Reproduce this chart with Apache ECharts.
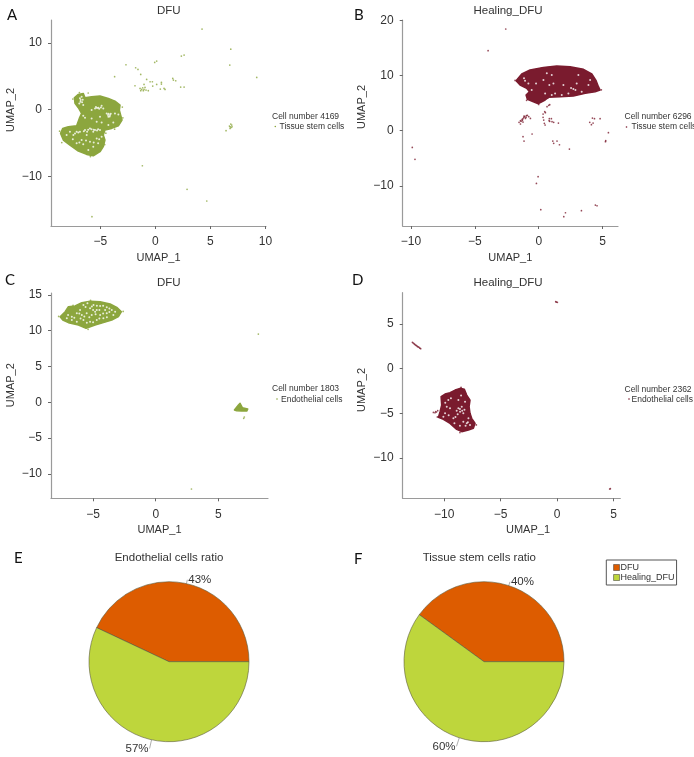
<!DOCTYPE html>
<html><head><meta charset="utf-8">
<style>html,body{margin:0;padding:0;background:#fff}#c{width:694px;height:757px}</style>
<script src="https://cdn.jsdelivr.net/npm/echarts@6/dist/echarts.min.js"></script>
</head><body><div id="c"></div>
<script>
// ---- values (UMAP coordinates) ----
const aXTicks=[-5,0,5,10], aYTicks=[-10,0,10];
const bXTicks=[-10,-5,0,5], bYTicks=[-10,0,10,20];
const cXTicks=[-5,0,5], cYTicks=[-10,-5,0,5,10,15];
const dXTicks=[-10,-5,0,5], dYTicks=[-10,-5,0,5];

const aCloud=[[-7.36,1.79],[-7.0,2.29],[-6.55,2.44],[-6.39,1.79],[-5.79,1.94],[-5.03,2.04],[-4.27,1.69],[-3.67,1.29],[-3.21,0.7],[-3.27,-0.05],[-3.15,-0.8],[-3.03,-1.54],[-3.36,-2.39],[-3.97,-2.79],[-4.58,-3.03],[-4.73,-3.78],[-4.58,-4.53],[-4.73,-5.52],[-5.03,-6.27],[-5.64,-6.87],[-6.24,-6.67],[-7.0,-6.17],[-7.76,-5.27],[-8.36,-4.53],[-8.61,-3.53],[-8.42,-2.79],[-7.91,-2.54],[-7.15,-2.39],[-6.91,-1.29],[-6.7,-0.55],[-7.0,0.3],[-7.3,0.95]];
const aGaps=[[-6.79,1.44],[-6.91,0.95],[-6.55,0.7],[-6.7,1.94],[-5.48,0.2],[-5.18,0.3],[-4.88,0.6],[-5.79,-0.05],[-4.73,0.2],[-4.42,-0.55],[-4.27,-1.04],[-4.12,-0.8],[-3.67,-0.55],[-3.36,-0.7],[-6.55,-0.9],[-6.39,-1.19],[-5.79,-1.29],[-5.03,-1.04],[-5.33,-1.79],[-5.94,-2.79],[-6.39,-3.03],[-5.64,-3.28],[-6.85,-3.28],[-7.3,-3.53],[-7.76,-3.28],[-7.45,-3.78],[-6.24,-3.78],[-5.48,-3.03],[-5.03,-3.03],[-6.7,-4.53],[-5.94,-4.78],[-6.55,-5.17],[-5.33,-4.28],[-4.88,-4.03],[-8.06,-3.78],[-5.64,-5.52],[-6.09,-6.02],[-7.15,-5.02],[-4.27,-2.29],[-3.82,-1.89],[-4.88,-1.89],[-6.8,1.2],[-6.65,1.1],[-6.6,1.5],[-6.85,1.7],[-5.3,0.25],[-5.1,0.15],[-4.95,0.35],[-5.4,0.4],[-4.25,-0.6],[-4.3,-0.8],[-4.15,-1.0],[-4.05,-0.6],[-6.1,-3.0],[-5.8,-2.9],[-5.6,-3.0],[-5.3,-3.1],[-5.2,-2.9],[-6.5,-3.2],[-6.2,-3.3],[-7.0,-3.4],[-7.15,-3.3],[-7.5,-4.4],[-6.9,-4.9],[-6.3,-4.6],[-5.6,-4.9],[-5.2,-5.0],[-5.1,-4.4]];
const aPoints=[[4.24,12.04],[6.85,9.05],[6.76,6.67],[9.21,4.83],[2.61,8.16],[2.36,8.01],[0.12,7.26],[-0.06,7.06],[-2.67,6.72],[-3.7,4.93],[-1.79,6.27],[-1.58,6.02],[-1.33,5.27],[-1.85,3.58],[1.58,4.68],[1.85,4.33],[1.64,4.43],[2.3,3.38],[2.61,3.38],[-0.79,4.53],[-1.03,3.78],[-0.48,4.18],[-0.27,4.18],[-0.24,3.53],[0.12,3.78],[0.55,4.08],[0.55,3.83],[0.45,3.08],[0.79,3.18],[0.88,3.03],[-1.39,3.18],[-1.24,3.03],[-1.15,3.28],[-1.09,2.84],[-0.94,3.33],[-0.85,2.94],[-0.64,2.84],[-1.33,2.84],[-1.03,3.03],[6.42,-3.13],[6.79,-2.54],[6.94,-2.29],[6.88,-2.64],[6.73,-2.44],[6.97,-2.54],[6.79,-2.79],[6.85,-2.14],[-1.18,-8.36],[2.88,-11.89],[4.67,-13.63],[-5.76,-15.97],[-3.0,0.4],[-2.95,-1.2],[-4.5,-3.5],[-8.7,-3.2],[-6.1,2.5],[-6.9,2.55],[-7.5,1.6],[-8.5,-4.9],[-5.9,-7.0],[-4.6,-5.2],[-3.7,-2.9]];

const bCloud=[[-1.77,9.06],[-1.33,10.27],[-0.68,10.99],[0.37,11.47],[1.41,11.71],[2.45,11.59],[3.5,11.11],[4.15,10.27],[4.49,9.06],[4.67,7.97],[4.8,7.37],[4.41,7.07],[3.63,6.76],[2.71,6.28],[1.67,6.16],[0.76,6.04],[0.5,5.56],[-0.03,4.89],[-0.42,5.25],[-0.89,5.68],[-0.99,6.46],[-0.73,7.07],[-0.94,7.67],[-1.46,8.27]];
const bGaps=[[2.71,7.55],[2.53,7.73],[2.87,7.37],[1.02,6.46],[0.5,6.76],[1.15,8.57],[-0.21,8.57],[-1.07,9.06],[-1.15,9.48],[1.93,8.27],[2.32,6.76],[3.36,7.07],[3.89,8.27],[4.02,9.18],[3.1,10.08],[1.02,10.08],[0.37,9.18],[1.8,6.46],[1.28,6.76],[0.63,10.39],[-0.55,7.37],[-0.81,8.57],[0.83,8.27],[2.97,8.57]];
const bPoints=[[-2.58,18.42],[-3.96,14.49],[-9.89,-3.02],[-9.68,-5.19],[0.78,4.59],[0.65,4.35],[0.86,4.71],[0.47,3.44],[0.34,3.02],[0.52,3.26],[0.34,2.42],[0.39,1.93],[0.44,1.33],[0.5,1.03],[0.83,2.17],[0.99,2.17],[0.86,1.69],[1.04,1.63],[1.17,1.51],[0.81,1.81],[1.54,1.39],[-1.17,2.42],[-1.1,2.54],[-1.23,2.17],[-1.3,2.05],[-1.43,1.81],[-1.04,2.23],[-1.38,1.69],[-1.54,1.51],[-0.97,2.72],[-0.89,2.78],[-0.99,2.42],[-0.65,2.23],[-0.78,2.54],[-1.15,2.66],[-1.28,1.87],[-1.43,1.21],[-1.23,1.57],[4.2,2.29],[4.36,2.17],[4.8,2.17],[3.99,1.51],[4.25,1.39],[4.12,1.09],[5.45,-0.36],[5.24,-1.81],[5.22,-1.99],[-0.52,-0.6],[-1.23,-1.09],[-1.15,-1.87],[1.1,-1.87],[1.17,-2.29],[1.43,-1.87],[1.62,-2.54],[2.4,-3.32],[-0.05,-8.33],[-0.18,-9.54],[0.16,-14.31],[2.09,-14.86],[1.96,-15.58],[3.34,-14.49],[4.43,-13.47],[4.56,-13.59],[-1.85,9.1],[4.9,7.4],[0.0,4.75],[-0.95,5.5],[0.7,5.9]];

const cCloud=[[-7.63,11.96],[-7.23,12.66],[-6.97,13.36],[-6.44,13.45],[-5.9,13.92],[-5.24,14.11],[-4.44,14.06],[-3.64,13.73],[-3.11,13.27],[-2.74,12.66],[-2.98,11.96],[-3.51,11.5],[-4.18,11.13],[-4.84,10.8],[-5.56,10.34],[-6.17,10.8],[-6.97,11.13],[-7.42,11.5]];
const cSmallCloud=[[6.28,-1.08],[6.6,-0.38],[6.73,-0.14],[6.91,-0.75],[7.34,-0.94],[7.26,-1.22],[6.86,-1.22],[6.46,-1.17]];
const cGaps=[[-5.77,13.59],[-5.45,13.83],[-4.97,13.59],[-4.44,13.45],[-3.91,13.27],[-3.51,12.9],[-3.24,12.66],[-4.71,12.9],[-5.24,13.13],[-6.3,12.43],[-5.9,12.2],[-5.51,12.43],[-5.11,12.2],[-4.44,12.2],[-3.91,12.43],[-3.38,12.2],[-6.7,11.5],[-6.3,11.27],[-5.77,11.5],[-5.24,11.27],[-4.71,11.5],[-4.18,11.73],[-7.1,11.73],[-6.7,11.96],[-4.84,12.66],[-4.04,12.9],[-6.04,12.9],[-5.6,13.3],[-5.1,13.4],[-4.7,13.5],[-4.2,13.5],[-3.7,13.1],[-5.0,12.9],[-4.5,12.9],[-6.1,12.4],[-5.7,12.0],[-5.3,11.9],[-4.8,12.3],[-4.2,12.4],[-3.7,12.6],[-6.5,11.8],[-6.0,11.7],[-5.5,11.1],[-5.0,11.2],[-4.5,11.7],[-3.9,11.9],[-7.0,12.2]];
const cPoints=[[8.19,9.54],[2.85,-12.1],[7.02,-2.23],[7.07,-2.05],[-2.6,12.7],[-7.75,12.0],[-5.4,10.2],[-5.2,14.25],[-6.6,13.55]];

const dCloud=[[-10.27,-3.13],[-9.92,-2.84],[-9.48,-2.69],[-9.03,-2.39],[-8.59,-2.2],[-8.21,-2.31],[-8.0,-2.95],[-7.71,-3.51],[-7.79,-4.25],[-7.71,-5.0],[-7.56,-5.56],[-7.26,-6.12],[-7.41,-6.68],[-7.85,-6.87],[-8.44,-7.05],[-8.89,-6.79],[-9.48,-6.12],[-10.07,-5.67],[-10.51,-5.45],[-10.36,-4.81],[-10.22,-4.07]];
const dGaps=[[-8.74,-4.44],[-8.59,-4.81],[-8.89,-4.7],[-8.3,-5.0],[-8.44,-4.25],[-9.63,-3.51],[-9.92,-5.0],[-10.07,-5.37],[-9.18,-5.56],[-8.0,-6.12],[-8.3,-5.93],[-7.71,-6.31],[-7.85,-5.56],[-9.48,-4.44],[-8.74,-3.51],[-9.09,-6.12],[-8.15,-3.69],[-9.77,-4.25],[-8.6,-4.5],[-8.4,-4.7],[-8.2,-4.6],[-8.8,-5.1],[-9.6,-5.2],[-9.4,-3.3],[-9.9,-3.8],[-8.1,-6.4],[-7.9,-6.0],[-8.6,-6.4],[-9.0,-5.4],[-8.5,-3.0]];
const dPoints=[[-10.95,-4.89],[-10.75,-4.81],[-10.57,-4.7],[-10.81,-4.93],[-10.68,-4.85],[-12.81,2.95],[-12.74,2.88],[-12.67,2.8],[-12.6,2.72],[-12.52,2.65],[-12.45,2.58],[-12.37,2.5],[-12.3,2.44],[-12.22,2.39],[-12.15,2.3],[-12.08,2.24],[-0.06,7.46],[-0.12,7.5],[0.03,7.43],[4.72,-13.43],[4.66,-13.47],[-7.15,-6.3],[-8.6,-7.15],[-10.6,-5.4],[-8.5,-2.1]];

const pieCategories=['DFU','Healing_DFU'];
const endothelialRatio=[43,57];
const tissueStemRatio=[40,60];
const pieColors=['#DD5C00','#BED63C'];

// ---- layout ----
const GREEN='#8CA63E', RED='#7A1B2E', FONT='"Liberation Sans",Arial,sans-serif', TXT='#333';
const panels=[
 {rect:[51,20,215,206],x:[-9.48,10.05],y:[-17.36,13.4],xt:aXTicks,yt:aYTicks,clouds:[aCloud],gaps:aGaps,pts:aPoints,col:GREEN,nameUp:26,xShift:0},
 {rect:[402.7,20,215.3,206],x:[-10.64,6.2],y:[-17.26,20.05],xt:bXTicks,yt:bYTicks,clouds:[bCloud],gaps:bGaps,pts:bPoints,col:RED,nameUp:32,xShift:0},
 {rect:[51,293,217,205.3],x:[-8.36,8.96],y:[-13.4,15.27],xt:cXTicks,yt:cYTicks,clouds:[cCloud,cSmallCloud],gaps:cGaps,pts:cPoints,col:GREEN,nameUp:21,xShift:0},
 {rect:[402.7,292.7,217.6,205.6],x:[-13.67,5.6],y:[-14.51,8.51],xt:dXTicks,yt:dYTicks,clouds:[dCloud],gaps:dGaps,pts:dPoints,col:RED,nameUp:11,xShift:33}
];
const fmt=v=>String(v).replace('-','\u2212');
const axisCommon=(ticks,m)=>({type:'value',splitLine:{show:false},
  axisLine:{onZero:false,lineStyle:{color:'#9a9a9a',width:1.2}},
  axisTick:{length:3,lineStyle:{color:'#666',width:1},customValues:ticks},
  axisLabel:{color:TXT,fontFamily:FONT,fontSize:12,margin:m,customValues:ticks,formatter:fmt,showMinLabel:true,showMaxLabel:true},
  nameLocation:'middle'});
const grid=[],xAxis=[],yAxis=[],series=[];
panels.forEach((p,i)=>{
  grid.push({left:p.rect[0],top:p.rect[1],width:p.rect[2],height:p.rect[3]});
  xAxis.push({...axisCommon(p.xt,10),gridIndex:i,min:p.x[0],max:p.x[1],name:'UMAP_1',nameGap:26,
    nameTextStyle:{color:TXT,fontFamily:FONT,fontSize:11,padding:[0,0,0,p.xShift]}});
  yAxis.push({...axisCommon(p.yt,9),gridIndex:i,min:p.y[0],max:p.y[1],name:'UMAP_2',nameGap:35,
    nameTextStyle:{color:TXT,fontFamily:FONT,fontSize:11,padding:[0,0,0,p.nameUp]}});
  p.clouds.forEach(cloud=>series.push({type:'custom',xAxisIndex:i,yAxisIndex:i,z:1,silent:true,data:cloud,
    encode:{x:0,y:1},
    renderItem:(params,api)=>{
      if(params.dataIndex!==0) return null;
      return {type:'polygon',shape:{points:cloud.map(c=>api.coord(c))},
        style:{fill:p.col,stroke:p.col,lineWidth:1.5,lineJoin:'round'}};
    }}));
  series.push({type:'scatter',xAxisIndex:i,yAxisIndex:i,z:2,silent:true,data:p.gaps,symbolSize:2,
    itemStyle:{color:'#fff',opacity:0.8}});
  series.push({type:'scatter',xAxisIndex:i,yAxisIndex:i,z:3,silent:true,data:p.pts,symbolSize:1.7,
    itemStyle:{color:p.col}});
});
const pie=(name,vals,cx)=>({type:'pie',name,center:[cx,661.7],radius:[0,80],startAngle:0,clockwise:false,
  data:pieCategories.map((n,k)=>({name:n,value:vals[k],itemStyle:{color:pieColors[k]},
    labelLine:{length:k?9:4,length2:0}})),
  itemStyle:{borderColor:'#5a5a3c',borderWidth:0.6},
  label:{position:'outside',formatter:'{c}%',color:TXT,fontFamily:FONT,fontSize:11.5,distanceToLabelLine:1},
  labelLine:{show:true,lineStyle:{color:'#777',width:0.6}},
  emphasis:{disabled:true},silent:true,animation:false});
series.push(pie('Endothelial cells ratio',endothelialRatio,169));
series.push(pie('Tissue stem cells ratio',tissueStemRatio,484));

const txt=(x,y,t,size,o={})=>({type:'text',x,y,style:{text:t,fill:o.fill||TXT,font:`${size}px ${o.family||FONT}`,align:o.align||'center',verticalAlign:'middle'}});
const dot=(x,y,c)=>({type:'circle',shape:{cx:x,cy:y,r:0.8},style:{fill:c}});
const graphic=[
 txt(168.7,10.7,'DFU',11.5),txt(508,10.7,'Healing_DFU',11.5),
 txt(168.7,283,'DFU',11.5),txt(508,283,'Healing_DFU',11.5),
 txt(169,557.7,'Endothelial cells ratio',11.5),txt(479.3,557.7,'Tissue stem cells ratio',11.5),
 ...[['A',7,15],['B',354,15],['C',5,280],['D',352,280],['E',14,558.5],['F',354,559]].map(l=>txt(l[1],l[2],l[0],15,{align:'left',family:'Lato,sans-serif',fill:'#111'})),
 txt(272,116.7,'Cell number 4169',8.5,{align:'left'}),txt(279.5,127,'Tissue stem cells',8.5,{align:'left'}),dot(275.3,126.5,GREEN),
 txt(624.5,116.7,'Cell number 6296',8.5,{align:'left'}),txt(631.5,127,'Tissue stem cells',8.5,{align:'left'}),dot(626.5,127,RED),
 txt(272,389,'Cell number 1803',8.5,{align:'left'}),txt(281,400,'Endothelial cells',8.5,{align:'left'}),dot(277,399,GREEN),
 txt(624.5,390,'Cell number 2362',8.5,{align:'left'}),txt(631.5,400,'Endothelial cells',8.5,{align:'left'}),dot(629,399,RED)
];
const chart=echarts.init(document.getElementById('c'),null,{renderer:'canvas'});
chart.setOption({animation:false,backgroundColor:'#fff',grid,xAxis,yAxis,series,graphic,
  legend:{left:606.3,top:560,orient:'vertical',data:pieCategories,icon:'rect',itemWidth:6,itemHeight:6,itemGap:1,
    padding:[3,2,3,7],borderColor:'#555',borderWidth:1,selectedMode:false,
    itemStyle:{borderWidth:0.5,borderColor:'#333'},
    textStyle:{color:TXT,fontFamily:FONT,fontSize:9,padding:[0,0,0,-4]}}
});
</script></body></html>
